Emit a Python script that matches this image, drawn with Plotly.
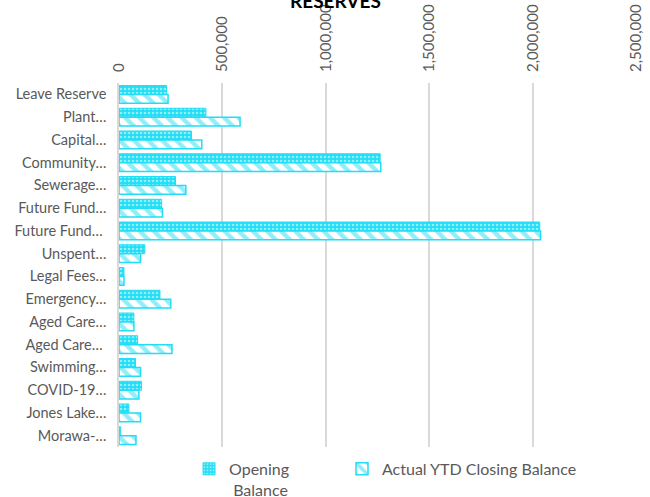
import plotly.graph_objects as go

categories = ["Leave Reserve", "Plant…", "Capital…", "Community…", "Sewerage…",
              "Future Fund…", "Future Fund… ", "Unspent…", "Legal Fees…", "Emergency…",
              "Aged Care…", "Aged Care… ", "Swimming…", "COVID-19…", "Jones Lake…", "Morawa-…"]
opening_balance = [230000, 420000, 350000, 1262000, 273000, 206000, 2033000, 125000,
                   24000, 198000, 72000, 90000, 80000, 109000, 48000, 8000]
closing_balance = [237000, 585000, 400000, 1265000, 323000, 210000, 2037000, 104000,
                   24000, 250000, 72000, 256000, 104000, 96000, 104000, 82000]
x_ticks = [0, 500000, 1000000, 1500000, 2000000, 2500000]

CYAN = "#22DDF5"
FONT = "Lato"
GRAY = "#595959"

fig = go.Figure()
fig.add_trace(go.Bar(
    y=categories, x=opening_balance, orientation="h",
    name="Opening<br>\u00a0Balance", legend="legend",
    marker=dict(color=CYAN, line=dict(color=CYAN, width=1),
                pattern=dict(shape=".", fgcolor="white", bgcolor=CYAN, size=4, solidity=0.35)),
))
fig.add_trace(go.Bar(
    y=categories, x=closing_balance, orientation="h",
    name="Actual YTD Closing Balance", legend="legend2",
    marker=dict(color=CYAN, line=dict(color=CYAN, width=1.5),
                pattern=dict(shape="\\", fgcolor=CYAN, bgcolor="white", size=10, solidity=0.45)),
))

legend_common = dict(orientation="h", yanchor="top", valign="top",
                     font=dict(family=FONT, size=16, color=GRAY),
                     bgcolor="rgba(0,0,0,0)")

fig.update_layout(
    width=650, height=497,
    margin=dict(l=119, r=13, t=83, b=50, autoexpand=False),
    paper_bgcolor="white", plot_bgcolor="white",
    barmode="group", bargap=0.22, bargroupgap=0,
    font=dict(family=FONT, color=GRAY, size=14),
    showlegend=True,
    legend=dict(x=0.1352, xanchor="left", y=-0.0135, **legend_common),
    legend2=dict(x=0.4305, xanchor="left", y=-0.0135, **legend_common),
    annotations=[dict(text="<b>RESERVES</b>", xref="paper", yref="paper",
                      x=(335 - 119) / 518, y=1 + 82 / 364, xanchor="center", yanchor="middle",
                      showarrow=False, font=dict(family=FONT, size=19, color="#000000"))],
    xaxis=dict(side="top", range=[0, 2503000], tickvals=x_ticks, tickformat=",",
               tickangle=-90, showgrid=True, gridcolor="#D9D9D9", gridwidth=1.5,
               zeroline=False, showline=False, ticks="", automargin=False,
               ticklabelstandoff=10,
               tickfont=dict(family=FONT, size=15, color=GRAY)),
    yaxis=dict(autorange="reversed", showgrid=False, showline=True, linecolor="#D9D9D9",
               linewidth=1.5, ticks="", automargin=False, ticklabelstandoff=8,
               tickfont=dict(family=FONT, size=14.5, color=GRAY)),
)

fig.write_html("out.html", config={"displayModeBar": False},
               post_script="document.body.style.margin='0px';")
